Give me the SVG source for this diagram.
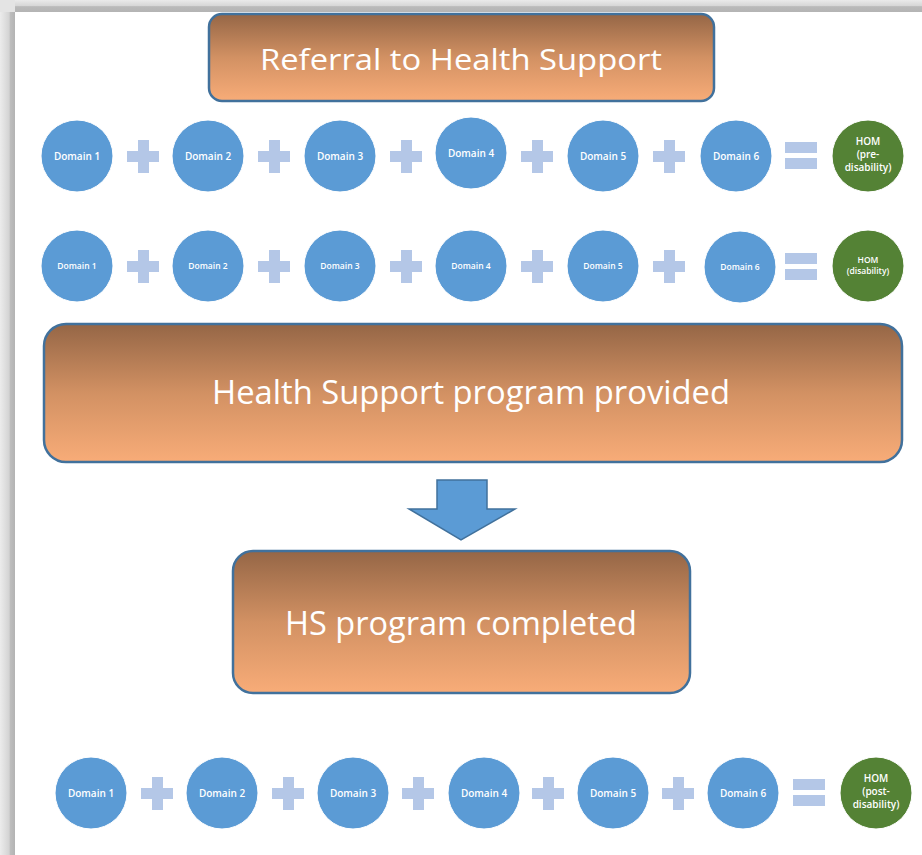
<svg xmlns="http://www.w3.org/2000/svg" width="922" height="855" viewBox="0 0 922 855">
<defs>
<linearGradient id="boxg" x1="0" y1="0" x2="0" y2="1">
<stop offset="0" stop-color="#956646"/>
<stop offset="0.5" stop-color="#D29163"/>
<stop offset="1" stop-color="#F8AC78"/>
</linearGradient>
<linearGradient id="leftg" x1="0" y1="0" x2="1" y2="0">
<stop offset="0" stop-color="#ececec"/>
<stop offset="0.6" stop-color="#d4d4d4"/>
<stop offset="0.7" stop-color="#bdbdbd"/>
<stop offset="1" stop-color="#b3b3b3"/>
</linearGradient>
<linearGradient id="topg" x1="0" y1="0" x2="0" y2="1">
<stop offset="0" stop-color="#eaeaea"/>
<stop offset="0.5" stop-color="#d6d6d6"/>
<stop offset="0.55" stop-color="#bababa"/>
<stop offset="1" stop-color="#b4b4b4"/>
</linearGradient>
<style>
.box{fill:url(#boxg);stroke:#41719C;stroke-width:2.5}
.title{font-family:"Open Sans","Noto Sans",sans-serif;fill:#fff;text-anchor:middle}
.dom{fill:#5B9BD5;stroke:#fff;stroke-width:1}
.hom{fill:#548235;stroke:#fff;stroke-width:1}
.op{fill:#B4C7E7}
.lbl{font-family:"Open Sans","Noto Sans",sans-serif;fill:#fff;text-anchor:middle;font-size:10px;font-weight:600}
.lbl2{font-family:"Open Sans","Noto Sans",sans-serif;fill:#fff;text-anchor:middle;font-size:8.5px;font-weight:600}
.arrow{fill:#5B9BD5;stroke:#41719C;stroke-width:1.5}
</style>
</defs>
<rect width="922" height="855" fill="#fff"/>
<rect x="0" y="0" width="15" height="855" fill="url(#leftg)"/>
<rect x="0" y="0" width="922" height="12" fill="url(#topg)"/>
<rect x="0" y="0" width="15" height="12" fill="#e4e4e4"/>

<g id="referral">
<rect class="box" x="209" y="14" width="505" height="87" rx="13"/>
<text class="title" x="461" y="70" font-size="30" textLength="402" lengthAdjust="spacingAndGlyphs">Referral to Health Support</text>
</g>

<g id="row1">
<circle class="dom" cx="77" cy="156" r="36"/><text class="lbl" x="77" y="159.5">Domain 1</text>
<circle class="dom" cx="208" cy="156" r="36"/><text class="lbl" x="208" y="159.5">Domain 2</text>
<circle class="dom" cx="340" cy="156" r="36"/><text class="lbl" x="340" y="159.5">Domain 3</text>
<circle class="dom" cx="471" cy="153" r="36"/><text class="lbl" x="471" y="156.5">Domain 4</text>
<circle class="dom" cx="603" cy="156" r="36"/><text class="lbl" x="603" y="159.5">Domain 5</text>
<circle class="dom" cx="736" cy="156" r="36"/><text class="lbl" x="736" y="159.5">Domain 6</text>
<circle class="hom" cx="868" cy="156" r="36"/>
<text class="lbl" x="868" y="145">HOM</text><text class="lbl" x="868" y="158">(pre-</text><text class="lbl" x="868" y="171">disability)</text>
</g>

<g id="row2">
<circle class="dom" cx="77" cy="266" r="36"/><text class="lbl2" x="77" y="269">Domain 1</text>
<circle class="dom" cx="208" cy="266" r="36"/><text class="lbl2" x="208" y="269">Domain 2</text>
<circle class="dom" cx="340" cy="266" r="36"/><text class="lbl2" x="340" y="269">Domain 3</text>
<circle class="dom" cx="471" cy="266" r="36"/><text class="lbl2" x="471" y="269">Domain 4</text>
<circle class="dom" cx="603" cy="266" r="36"/><text class="lbl2" x="603" y="269">Domain 5</text>
<circle class="dom" cx="740" cy="267" r="36"/><text class="lbl2" x="740" y="270">Domain 6</text>
<circle class="hom" cx="868" cy="266" r="36"/>
<text class="lbl2" x="868" y="263">HOM</text><text class="lbl2" x="868" y="274">(disability)</text>
</g>

<g id="program">
<rect class="box" x="44" y="324" width="858" height="138" rx="22"/>
<text class="title" x="471" y="404" font-size="32" textLength="518" lengthAdjust="spacingAndGlyphs">Health Support program provided</text>
</g>

<g id="completed">
<rect class="box" x="233" y="551" width="457" height="142" rx="20"/>
<text class="title" x="461" y="635" font-size="32" textLength="352" lengthAdjust="spacingAndGlyphs">HS program completed</text>
</g>

<g id="row3">
<circle class="dom" cx="91" cy="793" r="36"/><text class="lbl" x="91" y="796.5">Domain 1</text>
<circle class="dom" cx="222" cy="793" r="36"/><text class="lbl" x="222" y="796.5">Domain 2</text>
<circle class="dom" cx="353" cy="793" r="36"/><text class="lbl" x="353" y="796.5">Domain 3</text>
<circle class="dom" cx="484" cy="793" r="36"/><text class="lbl" x="484" y="796.5">Domain 4</text>
<circle class="dom" cx="613" cy="793" r="36"/><text class="lbl" x="613" y="796.5">Domain 5</text>
<circle class="dom" cx="743" cy="793" r="36"/><text class="lbl" x="743" y="796.5">Domain 6</text>
<circle class="hom" cx="876" cy="793" r="36"/>
<text class="lbl" x="876" y="782">HOM</text><text class="lbl" x="876" y="795">(post-</text><text class="lbl" x="876" y="808">disability)</text>
</g>

<g id="connectors">
<path class="arrow" d="M437,480 H487 V509 H515 L461,540 L409,509 H437 Z"/>
<path class="op" d="M138,140h11v11h10v11h-10v11h-11v-11h-11v-11h11z"/>
<path class="op" d="M269,140h11v11h10v11h-10v11h-11v-11h-11v-11h11z"/>
<path class="op" d="M401,140h11v11h10v11h-10v11h-11v-11h-11v-11h11z"/>
<path class="op" d="M532,140h11v11h10v11h-10v11h-11v-11h-11v-11h11z"/>
<path class="op" d="M664,140h11v11h10v11h-10v11h-11v-11h-11v-11h11z"/>
<rect class="op" x="785" y="142" width="32" height="11"/>
<rect class="op" x="785" y="158" width="32" height="11"/>
<path class="op" d="M138,250h11v11h10v11h-10v11h-11v-11h-11v-11h11z"/>
<path class="op" d="M269,250h11v11h10v11h-10v11h-11v-11h-11v-11h11z"/>
<path class="op" d="M401,250h11v11h10v11h-10v11h-11v-11h-11v-11h11z"/>
<path class="op" d="M532,250h11v11h10v11h-10v11h-11v-11h-11v-11h11z"/>
<path class="op" d="M664,250h11v11h10v11h-10v11h-11v-11h-11v-11h11z"/>
<rect class="op" x="785" y="253" width="32" height="11"/>
<rect class="op" x="785" y="269" width="32" height="11"/>
<path class="op" d="M152,777h11v11h10v11h-10v11h-11v-11h-11v-11h11z"/>
<path class="op" d="M283,777h11v11h10v11h-10v11h-11v-11h-11v-11h11z"/>
<path class="op" d="M413,777h11v11h10v11h-10v11h-11v-11h-11v-11h11z"/>
<path class="op" d="M543,777h11v11h10v11h-10v11h-11v-11h-11v-11h11z"/>
<path class="op" d="M673,777h11v11h10v11h-10v11h-11v-11h-11v-11h11z"/>
<rect class="op" x="793" y="779" width="32" height="11"/>
<rect class="op" x="793" y="795" width="32" height="11"/>
</g>
</svg>
